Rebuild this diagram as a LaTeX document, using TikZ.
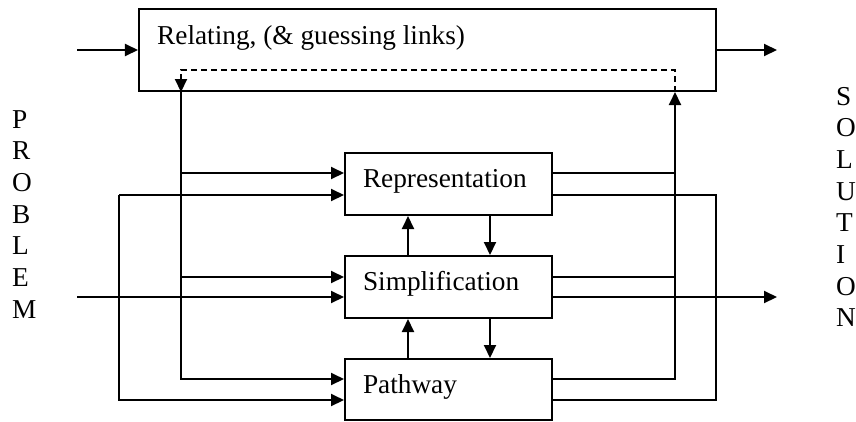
\documentclass[tikz,border=0pt]{standalone}
\usepackage{fontspec}
\setmainfont{Liberation Serif}
\usetikzlibrary{arrows.meta}
\begin{document}
\begin{tikzpicture}[x=1bp,y=-1bp,
  every node/.style={font=\fontsize{27.4}{31.8}\selectfont},
  wire/.style={line width=2bp},
  arr/.style={wire,-{Triangle[length=13bp,width=12bp]}},
  dashwire/.style={arr,dash pattern=on 6bp off 4bp},
  box/.style={draw,line width=2bp,inner sep=0pt,text height=18.5pt,text depth=11pt,align=left},
  stage/.style={box,minimum width=207bp,text width=171bp},
  caption/.style={anchor=base west,inner sep=0pt}]
\useasboundingbox (0,0) rectangle (856,421);

% the relating box across the top
\node[box,minimum width=577bp,minimum height=82bp] (rel) at (427.5,50) {};
\node[caption] (reltext) at (157,44) {Relating, (\& guessing links)};

% the three working stages
\node[stage,minimum height=62bp] (rep)  at (448.5,184)   {Representation};
\node[stage,minimum height=62bp] (simp) at (448.5,287)   {Simplification};
\node[stage,minimum height=61bp] (path) at (448.5,389.5) {Pathway};

% vertical buses and free ends
\coordinate (L1) at (181,0);
\coordinate (L2) at (119,0);
\coordinate (R1) at (675,0);
\coordinate (R2) at (716,0);
\coordinate (inX) at (77,0);
\coordinate (outX) at (777,0);
\coordinate (U) at (408,0);
\coordinate (D) at (490,0);
\coordinate (dL) at (181,70);
\coordinate (dR) at (675,70);

% entry and exit rows of each stage
\foreach \s/\d in {rep/11,simp/10,path/10.5}{
  \coordinate (\s A) at ([yshift=\d bp]\s.west);
  \coordinate (\s B) at ([yshift=-\d bp]\s.west);
  \coordinate (\s EA) at ([yshift=\d bp]\s.east);
  \coordinate (\s EB) at ([yshift=-\d bp]\s.east);
}

% input and output of the relating box
\draw[arr] (rel.west -| inX) -- (rel.west);
\draw[arr] (rel.east) -- (rel.east -| outX);
\draw[dashwire] (rel.south -| R1) -- (dR) -- (dL) -- (rel.south -| L1);

% left side: relating bus and outer loop
\draw[arr] (rel.south -| L1) -- (pathA -| L1) -- (pathA);
\draw[arr] (repA -| L1) -- (repA);
\draw[arr] (simpA -| L1) -- (simpA);
\draw[arr] (repB -| L2) -- (repB);
\draw[arr] (repB -| L2) -- (pathB -| L2) -- (pathB);
\draw[arr] (simpB -| inX) -- (simpB);

% right side: back to relating, outer loop and the solution
\draw[wire] (repEA) -- (repEA -| R1);
\draw[wire] (simpEA) -- (simpEA -| R1);
\draw[arr] (pathEA) -- (pathEA -| R1) -- (rel.south -| R1);
\draw[wire] (repEB) -- (repEB -| R2) -- (pathEB -| R2) -- (pathEB);
\draw[arr] (simpEB) -- (simpEB -| outX);

% links between the stages
\draw[arr] (simp.north -| U) -- (rep.south -| U);
\draw[arr] (path.north -| U) -- (simp.south -| U);
\draw[arr] (rep.south -| D) -- (simp.north -| D);
\draw[arr] (simp.south -| D) -- (path.north -| D);

% side words
\foreach \ch [count=\i] in {P,R,O,B,L,E,M}
  \node[caption] (prob\i) at (12,{128+31.7*(\i-1)}) {\ch};
\foreach \ch [count=\i] in {S,O,L,U,T,I,O,N}
  \node[caption] (sol\i) at (836,{105+31.7*(\i-1)}) {\ch};
\end{tikzpicture}
\end{document}
